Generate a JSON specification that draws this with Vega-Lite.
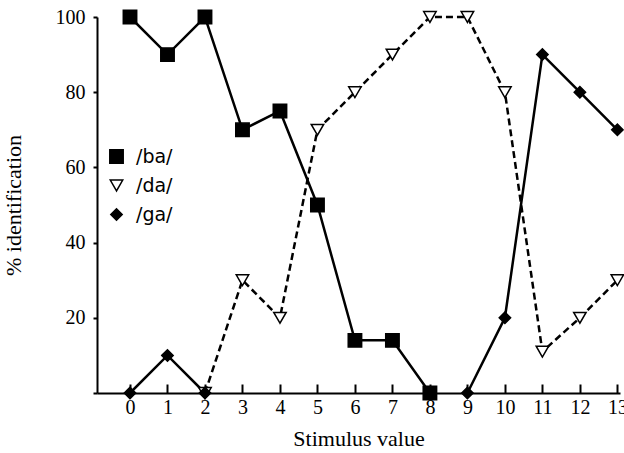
{
  "$schema": "https://vega.github.io/schema/vega-lite/v6.json",
  "autosize": "none",
  "width": 523,
  "height": 376,
  "padding": {"left": 97, "top": 17, "right": 4, "bottom": 60},
  "background": "white",
  "config": {
    "view": {"stroke": null},
    "font": "Liberation Serif",
    "axis": {
      "domainColor": "black",
      "domainWidth": 2,
      "tickColor": "black",
      "tickWidth": 2,
      "grid": false,
      "labelFont": "Liberation Serif",
      "labelFontSize": 20,
      "labelColor": "black",
      "titleFont": "Liberation Serif",
      "titleFontSize": 22,
      "titleFontWeight": "normal",
      "titleColor": "black"
    }
  },
  "data": {
    "values": [
      {"x": 0, "series": "/ba/", "y": 100},
      {"x": 1, "series": "/ba/", "y": 90},
      {"x": 2, "series": "/ba/", "y": 100},
      {"x": 3, "series": "/ba/", "y": 70},
      {"x": 4, "series": "/ba/", "y": 75},
      {"x": 5, "series": "/ba/", "y": 50},
      {"x": 6, "series": "/ba/", "y": 14},
      {"x": 7, "series": "/ba/", "y": 14},
      {"x": 8, "series": "/ba/", "y": 0},
      {"x": 2, "series": "/da/", "y": 0},
      {"x": 3, "series": "/da/", "y": 30},
      {"x": 4, "series": "/da/", "y": 20},
      {"x": 5, "series": "/da/", "y": 70},
      {"x": 6, "series": "/da/", "y": 80},
      {"x": 7, "series": "/da/", "y": 90},
      {"x": 8, "series": "/da/", "y": 100},
      {"x": 9, "series": "/da/", "y": 100},
      {"x": 10, "series": "/da/", "y": 80},
      {"x": 11, "series": "/da/", "y": 11},
      {"x": 12, "series": "/da/", "y": 20},
      {"x": 13, "series": "/da/", "y": 30},
      {"x": 0, "series": "/ga/", "y": 0},
      {"x": 1, "series": "/ga/", "y": 10},
      {"x": 2, "series": "/ga/", "y": 0},
      {"x": 5, "series": "/ga/", "y": null},
      {"x": 9, "series": "/ga/", "y": 0},
      {"x": 10, "series": "/ga/", "y": 20},
      {"x": 11, "series": "/ga/", "y": 90},
      {"x": 12, "series": "/ga/", "y": 80},
      {"x": 13, "series": "/ga/", "y": 70}
    ]
  },
  "encoding": {
    "x": {
      "field": "x",
      "type": "quantitative",
      "scale": {"domain": [-0.88, 13.07], "nice": false, "zero": false},
      "axis": {
        "title": "Stimulus value",
        "values": [0,1,2,3,4,5,6,7,8,9,10,11,12,13],
        "tickSize": -9,
        "labelPadding": 13,
        "titlePadding": 11
      }
    },
    "y": {
      "field": "y",
      "type": "quantitative",
      "scale": {"domain": [0, 100], "nice": false},
      "axis": {
        "title": "% identification",
        "values": [0, 20, 40, 60, 80, 100],
        "labelExpr": "datum.value == 0 ? '' : datum.label",
        "tickSize": 4,
        "labelPadding": 8,
        "titlePadding": 30
      }
    }
  },
  "layer": [
    {
      "transform": [{"filter": "datum.series != '/da/'"}],
      "mark": {"type": "line", "color": "black", "strokeWidth": 2.5, "invalid": "break-paths-show-domains"},
      "encoding": {"detail": {"field": "series"}}
    },
    {
      "transform": [{"filter": "datum.series == '/da/'"}],
      "mark": {"type": "line", "color": "black", "strokeWidth": 2.5, "strokeDash": [7, 4]},
      "encoding": {}
    },
    {
      "mark": {"type": "point", "filled": true, "stroke": "black", "strokeWidth": 1.5, "opacity": 1},
      "encoding": {
        "shape": {
          "field": "series",
          "type": "nominal",
          "scale": {"domain": ["/ba/", "/da/", "/ga/"], "range": ["square", "triangle-down", "diamond"]},
          "legend": {
            "title": null, "orient": "none", "legendX": 10, "legendY": 130,
            "labelFontSize": 19, "labelFont": "DejaVu Sans", "labelColor": "black",
            "rowPadding": 9, "labelOffset": 10
          }
        },
        "fill": {
          "field": "series",
          "type": "nominal",
          "scale": {"domain": ["/ba/", "/da/", "/ga/"], "range": ["black", "white", "black"]},
          "legend": {
            "title": null, "orient": "none", "legendX": 10, "legendY": 130,
            "labelFontSize": 19, "labelFont": "DejaVu Sans", "labelColor": "black",
            "rowPadding": 9, "labelOffset": 10
          }
        },
        "size": {
          "field": "series",
          "type": "nominal",
          "scale": {"domain": ["/ba/", "/da/", "/ga/"], "range": [180, 130, 260]},
          "legend": {
            "title": null, "orient": "none", "legendX": 10, "legendY": 130,
            "labelFontSize": 19, "labelFont": "DejaVu Sans", "labelColor": "black",
            "rowPadding": 9, "labelOffset": 10
          }
        }
      }
    }
  ]
}
